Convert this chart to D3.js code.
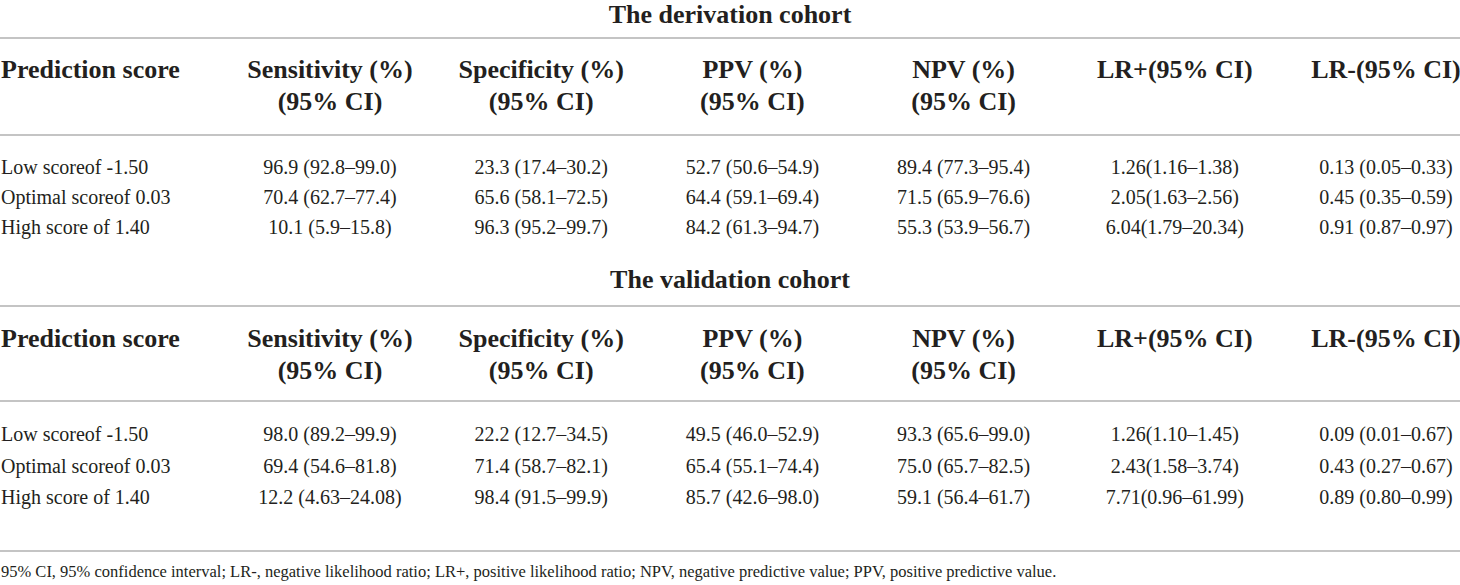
<!DOCTYPE html>
<html>
<head>
<meta charset="utf-8">
<script src="https://cdn.jsdelivr.net/npm/d3@7"></script>
<style>
  body { margin: 0; background: #fff; }
  svg { display: block; font-family: "Liberation Serif", "DejaVu Serif", serif; }
</style>
</head>
<body>
<svg width="1460" height="585"></svg>
<script>
// Table content
var cohortTitles = ['The derivation cohort', 'The validation cohort'];
var columns = ['Prediction score', 'Sensitivity (%)', 'Specificity (%)', 'PPV (%)', 'NPV (%)', 'LR+(95% CI)', 'LR-(95% CI)'];
var subHeaders = ['', '(95% CI)', '(95% CI)', '(95% CI)', '(95% CI)', '', ''];
var rowLabels = ['Low scoreof -1.50', 'Optimal scoreof 0.03', 'High score of 1.40'];

var derivationValues = [
    ['96.9 (92.8–99.0)', '23.3 (17.4–30.2)', '52.7 (50.6–54.9)', '89.4 (77.3–95.4)', '1.26(1.16–1.38)', '0.13 (0.05–0.33)'],
    ['70.4 (62.7–77.4)', '65.6 (58.1–72.5)', '64.4 (59.1–69.4)', '71.5 (65.9–76.6)', '2.05(1.63–2.56)', '0.45 (0.35–0.59)'],
    ['10.1 (5.9–15.8)', '96.3 (95.2–99.7)', '84.2 (61.3–94.7)', '55.3 (53.9–56.7)', '6.04(1.79–20.34)', '0.91 (0.87–0.97)']
];
var validationValues = [
    ['98.0 (89.2–99.9)', '22.2 (12.7–34.5)', '49.5 (46.0–52.9)', '93.3 (65.6–99.0)', '1.26(1.10–1.45)', '0.09 (0.01–0.67)'],
    ['69.4 (54.6–81.8)', '71.4 (58.7–82.1)', '65.4 (55.1–74.4)', '75.0 (65.7–82.5)', '2.43(1.58–3.74)', '0.43 (0.27–0.67)'],
    ['12.2 (4.63–24.08)', '98.4 (91.5–99.9)', '85.7 (42.6–98.0)', '59.1 (56.4–61.7)', '7.71(0.96–61.99)', '0.89 (0.80–0.99)']
];
var footnote = '95% CI, 95% confidence interval; LR-, negative likelihood ratio; LR+, positive likelihood ratio; NPV, negative predictive value; PPV, positive predictive value.';

var svg = d3.select('svg');
var svgWidth = +svg.attr('width');
var ink = '#231f20';
var ruleColor = '#c4c4c4';
var headSize = 26;
var bodySize = 20;

// Column centres for the value columns
var colScale = d3.scalePoint()
    .domain(columns.slice(1))
    .range([330, 1386]);

// Vertical layout of each cohort block (baselines and rules)
var blocks = [
    {title: cohortTitles[0], values: derivationValues, titleY: 23, topRule: 38, head: [78, 110], headRule: 135, rows: [174, 234]},
    {title: cohortTitles[1], values: validationValues, titleY: 288, topRule: 306, head: [347, 379], headRule: 401, rows: [441, 504]}
];

function rule(y) {
    svg.append('line')
        .attr('x1', 0).attr('x2', svgWidth)
        .attr('y1', y).attr('y2', y)
        .attr('stroke', ruleColor)
        .attr('stroke-width', 2);
}

blocks.forEach(function(b) {
    var rowScale = d3.scalePoint()
        .domain(rowLabels)
        .range(b.rows);

    svg.append('text')
        .attr('x', svgWidth / 2)
        .attr('y', b.titleY)
        .attr('text-anchor', 'middle')
        .attr('font-weight', 'bold')
        .attr('font-size', headSize)
        .attr('fill', ink)
        .text(b.title);

    rule(b.topRule);
    rule(b.headRule);

    var g = svg.append('g');

    // header, first line
    g.selectAll('.head')
        .data(columns)
        .enter().append('text')
        .attr('class', 'head')
        .attr('x', (d, i) => i === 0 ? 1 : colScale(d))
        .attr('y', b.head[0])
        .attr('text-anchor', (d, i) => i === 0 ? 'start' : 'middle')
        .attr('font-weight', 'bold')
        .attr('font-size', headSize)
        .attr('fill', ink)
        .text(d => d);

    // header, second line
    g.selectAll('.sub')
        .data(subHeaders)
        .enter().append('text')
        .attr('class', 'sub')
        .attr('x', (d, i) => i === 0 ? 1 : colScale(columns[i]))
        .attr('y', b.head[1])
        .attr('text-anchor', 'middle')
        .attr('font-weight', 'bold')
        .attr('font-size', headSize)
        .attr('fill', ink)
        .text(d => d);

    // row labels
    g.selectAll('.rowlabel')
        .data(rowLabels)
        .enter().append('text')
        .attr('class', 'rowlabel')
        .attr('x', 1)
        .attr('y', d => rowScale(d))
        .attr('font-size', bodySize)
        .attr('fill', ink)
        .text(d => d);

    // cells
    b.values.forEach(function(row, r) {
        g.selectAll('.cell-' + r)
            .data(row)
            .enter().append('text')
            .attr('class', 'cell-' + r)
            .attr('x', (d, i) => colScale(columns[i + 1]))
            .attr('y', rowScale(rowLabels[r]))
            .attr('text-anchor', 'middle')
            .attr('font-size', bodySize)
            .attr('fill', ink)
            .text(d => d);
    });
});

// footnote
rule(551);
svg.append('text')
    .attr('x', 1)
    .attr('y', 577)
    .attr('font-size', 16.5)
    .attr('fill', ink)
    .text(footnote);
</script>
</body>
</html>
